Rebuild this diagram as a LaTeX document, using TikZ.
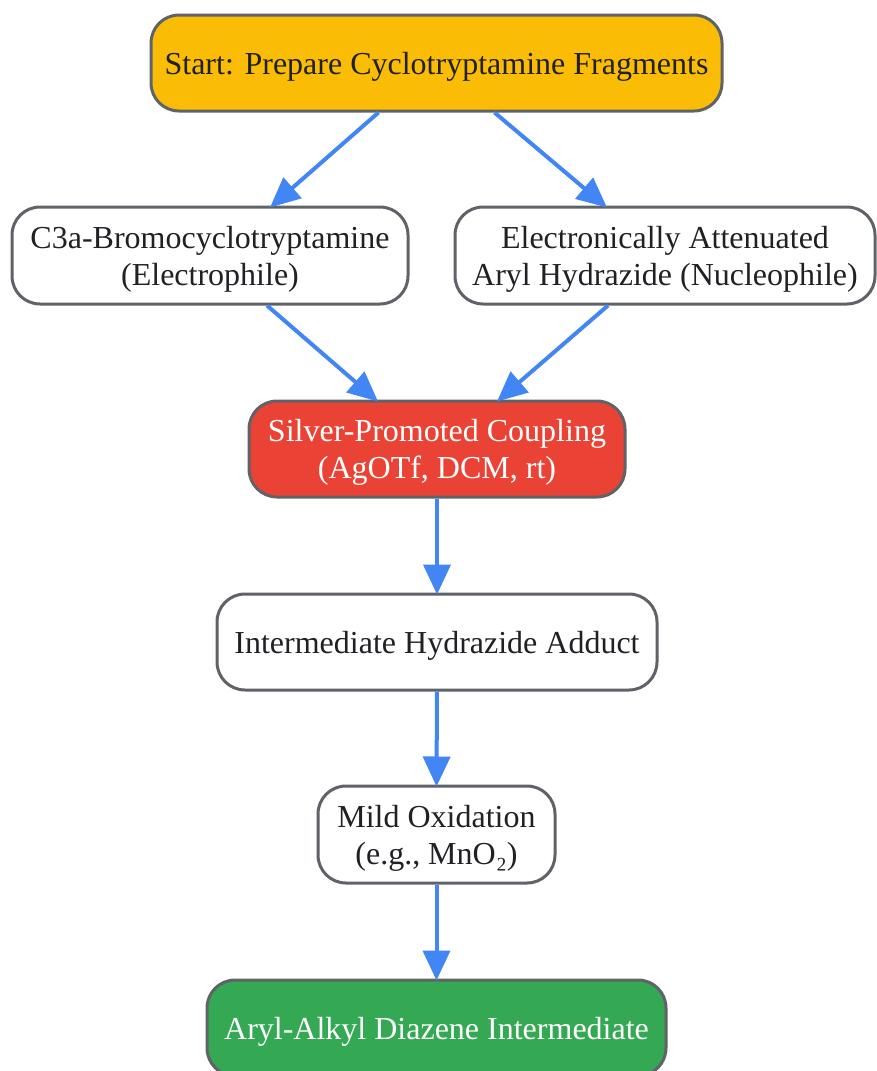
\documentclass[tikz,border=0pt]{standalone}
\usepackage{fontspec}
\setmainfont{Liberation Serif}
\usepackage{xcolor}
\usetikzlibrary{arrows.meta,positioning}
\definecolor{gborder}{HTML}{5F6368}
\definecolor{gtext}{HTML}{202124}
\definecolor{gyellow}{HTML}{FBBC05}
\definecolor{gred}{HTML}{EA4335}
\definecolor{ggreen}{HTML}{34A853}
\definecolor{gblue}{HTML}{4285F4}
\tikzset{
	stepnode/.style={draw=gborder,line width=3pt,rounded corners=28pt,fill=white,text=gtext,align=center,inner sep=0pt,text depth=-6pt,font=\fontsize{32}{37}\selectfont},%
	startnode/.style={stepnode,fill=gyellow},%
	couplenode/.style={stepnode,fill=gred,text=white},%
	endnode/.style={stepnode,fill=ggreen,text=white},%
	flow/.style={gblue,line width=4pt,-{Triangle[length=30pt,width=27pt]}},%
}
\begin{document}
\begin{tikzpicture}[x=1pt,y=-1pt]
		\useasboundingbox (0,0) rectangle (876,1071);
		% Nodes {{{
		\node[startnode,minimum width=571pt,minimum height=96pt] (start) at (436.5,63) {Start: Prepare Cyclotryptamine Fragments};
		\node[stepnode,minimum width=396pt,minimum height=97pt] (bromo) at (210,255.5) {C3a-Bromocyclotryptamine\\(Electrophile)};
		\node[stepnode,minimum width=420pt,minimum height=97pt] (hydrazide) at (665,255.5) {Electronically Attenuated\\Aryl Hydrazide (Nucleophile)};
		\node[couplenode,minimum width=376pt,minimum height=96pt] (coupling) at (437,449) {Silver-Promoted Coupling\\(AgOTf, DCM, rt)};
		\node[stepnode,minimum width=440pt,minimum height=96pt] (adduct) at (437,642) {Intermediate Hydrazide Adduct};
		\node[stepnode,minimum width=237pt,minimum height=97pt] (oxidation) at (436.5,834.5) {Mild Oxidation\\(e.g., MnO₂)};
		\node[endnode,minimum width=459pt,minimum height=96pt] (diazene) at (436.5,1028) {Aryl-Alkyl Diazene Intermediate};
		% }}}
		% Arrows {{{
		\draw[flow] ([xshift=-58pt]start.south) -- ([xshift=60pt,yshift=-2pt]bromo.north);
		\draw[flow] ([xshift=58pt]start.south) -- ([xshift=-58pt,yshift=-2pt]hydrazide.north);
		\draw[flow] ([xshift=57pt]bromo.south) -- ([xshift=-59pt,yshift=-2pt]coupling.north);
		\draw[flow] ([xshift=-57pt]hydrazide.south) -- ([xshift=60pt,yshift=-2pt]coupling.north);
		\draw[flow] (coupling.south) -- ([yshift=-2pt]adduct.north);
		\draw[flow] (adduct.south) -- ([yshift=-2pt]oxidation.north);
		\draw[flow] (oxidation.south) -- ([yshift=-2pt]diazene.north);
		% }}}
	\end{tikzpicture}
\end{document}
